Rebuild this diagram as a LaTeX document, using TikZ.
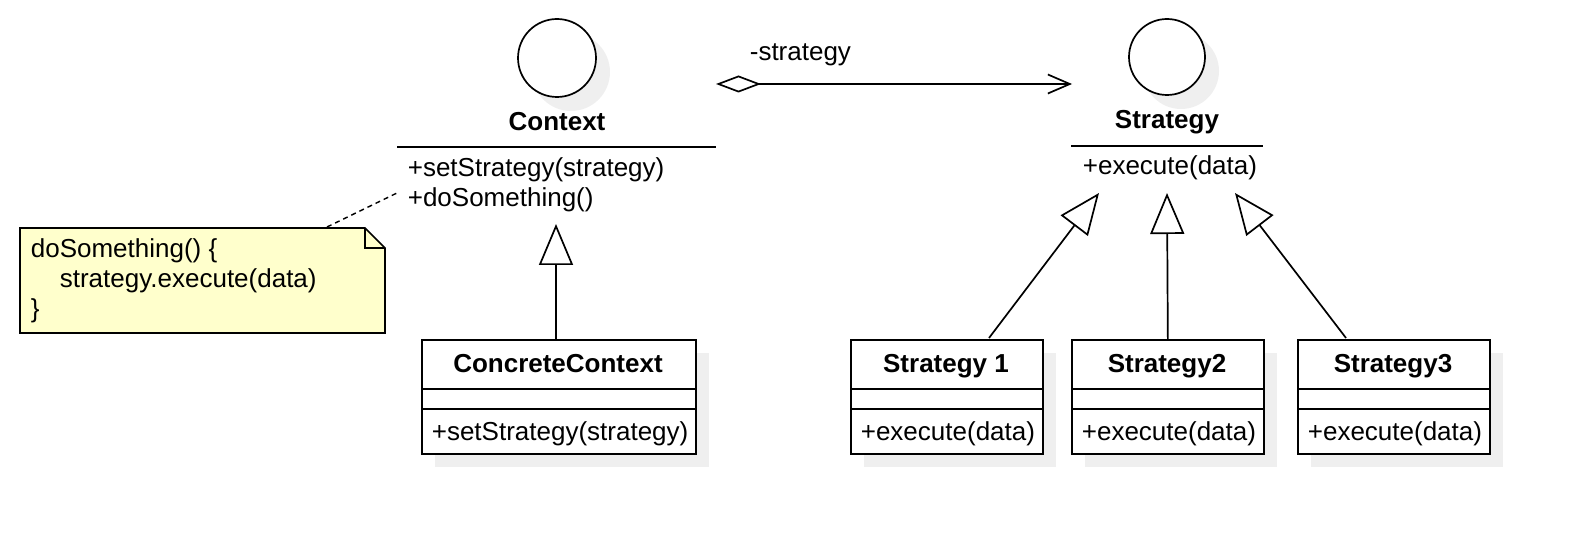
\documentclass[tikz,border=0pt]{standalone}
\usepackage{fontspec}
\setmainfont{Liberation Sans}
\usetikzlibrary{arrows.meta}
\definecolor{shadowgray}{HTML}{EFEFEF}
\definecolor{noteyellow}{HTML}{FFFFCC}
\newcommand\umlfnt{\fontsize{26}{30}\selectfont}
\begin{document}
\begin{tikzpicture}[x=1pt,y=-1pt,line width=1.7pt,font=\umlfnt,
  shade/.style={fill=shadowgray,draw=none},
  box/.style={draw,fill=white,rectangle,inner sep=0pt,anchor=north west},
  lbl/.style={inner sep=0pt,anchor=base west},
  ttl/.style={inner sep=0pt,anchor=base,font=\umlfnt\bfseries},
  iface/.style={draw,fill=white,circle,inner sep=0pt,minimum size=77pt},
  inherit/.style={-{Triangle[length=41pt,width=34pt,fill=white,line width=1.7pt]}},
  aggr/.style={{Diamond[length=45pt,width=17pt,fill=white,line width=1.7pt]}-{Straight Barb[length=22pt,width=19pt,line width=1.7pt]}},
  notelink/.style={dashed,line width=1.4pt,dash pattern=on 5pt off 4pt}]
\useasboundingbox (0,0) rectangle (1572,534);

% ---- Context (interface-like class)
\fill[shade] (571,72) circle (39);
\node[iface,minimum size=78pt] (ctxc) at (557,58) {};
\node[ttl] (ctxn) at (557,131) {Context};
\coordinate (ctxl) at (397,147);
\coordinate (ctxr) at (716,147);
\draw (ctxl) -- (ctxr);
\node[lbl] (ctxm1) at (407,177) {+setStrategy(strategy)};
\node[lbl] (ctxm2) at (407,207) {+doSomething()};

% ---- Strategy
\fill[shade] (1181,71) circle (38);
\node[iface,minimum size=76pt] (stc) at (1167,57) {};
\node[ttl] (stn) at (1167,129) {Strategy};
\coordinate (stl) at (1071,146);
\coordinate (str) at (1263,146);
\draw (stl) -- (str);
\node[lbl] (stm) at (1082,175) {+execute(data)};

% ---- Aggregation
\coordinate (aggs) at (716,84);
\coordinate (agge) at (1072,84);
\draw[aggr] (aggs) -- (agge);
\node[lbl] (aggl) at (749,61) {-strategy};

% ---- Note
\fill[noteyellow] (20,228) -- (365,228) -- (385,248) -- (385,333) -- (20,333) -- cycle;
\draw (20,228) -- (365,228) -- (385,248) -- (385,333) -- (20,333) -- cycle;
\draw (365,228) -- (365,248) -- (385,248);
\node[lbl] (n1) at (30,258) {doSomething() \{};
\node[lbl] (n2) at (59,288) {strategy.execute(data)};
\node[lbl] (n3) at (30,318) {\}};
\coordinate (notept) at (327,227);
\coordinate (ctxpt) at (397,193);
\draw[notelink] (notept) -- (ctxpt);

% ---- ConcreteContext
\fill[shade] (435,353) rectangle (709,467);
\node[box,minimum width=274pt,minimum height=114pt] (cc) at (421,339) {};
\draw (421,389) -- (695,389);
\draw (421,409) -- (695,409);
\node[ttl] (cct) at (558,373) {ConcreteContext};
\node[lbl] (ccm) at (431,441) {+setStrategy(strategy)};
\coordinate (cctop) at (556,339);
\coordinate (ctxtip) at (556,224);
\draw[inherit] (cctop) -- (ctxtip);

% ---- Strategy 1
\fill[shade] (864,353) rectangle (1056,467);
\node[box,minimum width=192pt,minimum height=114pt] (s1) at (850,339) {};
\draw (850,389) -- (1042,389);
\draw (850,409) -- (1042,409);
\node[ttl] (s1t) at (946,373) {Strategy 1};
\node[lbl] (s1m) at (860,441) {+execute(data)};

% ---- Strategy2
\fill[shade] (1085,353) rectangle (1277,467);
\node[box,minimum width=192pt,minimum height=114pt] (s2) at (1071,339) {};
\draw (1071,389) -- (1263,389);
\draw (1071,409) -- (1263,409);
\node[ttl] (s2t) at (1167,373) {Strategy2};
\node[lbl] (s2m) at (1081,441) {+execute(data)};

% ---- Strategy3
\fill[shade] (1311,353) rectangle (1503,467);
\node[box,minimum width=192pt,minimum height=114pt] (s3) at (1297,339) {};
\draw (1297,389) -- (1489,389);
\draw (1297,409) -- (1489,409);
\node[ttl] (s3t) at (1393,373) {Strategy3};
\node[lbl] (s3m) at (1307,441) {+execute(data)};

% ---- Generalizations to Strategy
\coordinate (s1top) at (989,338);
\coordinate (tipl) at (1099,193);
\coordinate (tipm) at (1167,193);
\coordinate (s3top) at (1346,338);
\coordinate (tipr) at (1235,193);
\draw[inherit] (s1top) -- (tipl);
\draw[inherit] (s2.north) -- (tipm);
\draw[inherit] (s3top) -- (tipr);
\end{tikzpicture}
\end{document}
